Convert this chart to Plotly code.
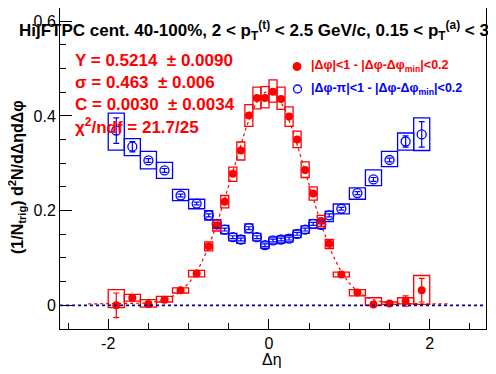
import numpy as np
import plotly.graph_objects as go

# ---------------- data ----------------
deta = [-1.9, -1.7, -1.5, -1.3, -1.1, -0.9, -0.75, -0.65, -0.55, -0.45, -0.35, -0.25, -0.15, -0.05,
        0.05, 0.15, 0.25, 0.35, 0.45, 0.55, 0.65, 0.75, 0.9, 1.1, 1.3, 1.5, 1.7, 1.9]
bin_width = [0.2] * 6 + [0.1] * 16 + [0.2] * 6

near_y = [0.000, 0.016, 0.003, 0.012, 0.032, 0.067, 0.125, 0.168, 0.219, 0.278, 0.327, 0.401, 0.438, 0.438,
          0.451, 0.436, 0.399, 0.350, 0.286, 0.236, 0.178, 0.130, 0.065, 0.027, 0.002, 0.004, 0.009, 0.032]
near_stat = [0.026, 0.006, 0.004, 0.003, 0.003, 0.003, 0.003, 0.003, 0.003, 0.003, 0.003, 0.003, 0.003, 0.003,
             0.003, 0.003, 0.003, 0.003, 0.003, 0.003, 0.003, 0.003, 0.003, 0.003, 0.004, 0.004, 0.011, 0.025]
near_sys_lo = [-0.005, 0.009, -0.004, 0.007, 0.026, 0.060, 0.115, 0.157, 0.206, 0.262, 0.307, 0.378, 0.415, 0.417,
               0.429, 0.414, 0.378, 0.333, 0.270, 0.222, 0.166, 0.120, 0.060, 0.020, 0.000, 0.002, 0.003, 0.002]
near_sys_hi = [0.033, 0.023, 0.012, 0.019, 0.037, 0.074, 0.134, 0.180, 0.232, 0.292, 0.345, 0.424, 0.461, 0.462,
               0.476, 0.461, 0.419, 0.368, 0.303, 0.250, 0.190, 0.139, 0.070, 0.033, 0.016, 0.007, 0.016, 0.063]

away_y = [0.369, 0.335, 0.306, 0.285, 0.232, 0.215, 0.190, 0.172, 0.160, 0.144, 0.139, 0.163, 0.144, 0.127,
          0.137, 0.139, 0.141, 0.151, 0.160, 0.172, 0.170, 0.190, 0.204, 0.237, 0.266, 0.307, 0.346, 0.361]
away_stat = [0.027, 0.011, 0.004, 0.004, 0.003, 0.003, 0.003, 0.003, 0.003, 0.003, 0.003, 0.003, 0.003, 0.003,
             0.003, 0.003, 0.003, 0.003, 0.003, 0.003, 0.003, 0.003, 0.003, 0.003, 0.004, 0.004, 0.012, 0.027]
away_sys_lo = [0.328, 0.316, 0.288, 0.268, 0.221, 0.204, 0.180, 0.163, 0.151, 0.136, 0.131, 0.153, 0.136, 0.120,
               0.130, 0.132, 0.134, 0.143, 0.152, 0.163, 0.162, 0.177, 0.193, 0.224, 0.253, 0.293, 0.328, 0.327]
away_sys_hi = [0.406, 0.352, 0.325, 0.302, 0.245, 0.224, 0.200, 0.181, 0.169, 0.152, 0.147, 0.172, 0.152, 0.134,
               0.144, 0.146, 0.148, 0.159, 0.168, 0.181, 0.178, 0.199, 0.214, 0.248, 0.286, 0.325, 0.364, 0.396]

# Gaussian fit parameters (shown on the plot)
fit_Y, fit_Y_err = 0.5214, 0.0090
fit_sigma, fit_sigma_err = 0.463, 0.006
fit_C, fit_C_err = 0.0030, 0.0034
chi2, ndf = 21.7, 25
fit_range = (-2.25, 2.25)

x_ticks = [-2, 0, 2]
y_ticks = [0, 0.2, 0.4, 0.6]

RED = "#ff0000"
BLUE = "#0000ff"
FONT = "Liberation Sans"

# page offset of the plot div (browser body margin)
OFF = 8
# figure size & margins (in figure pixels)
W, H = 496 - OFF, 374 - OFF
L, R, T, B = 60 - OFF, 10, 0, 45
pw, ph = W - L - R, H - T - B


def px(xp):  # page pixel x -> paper
    return (xp - OFF - L) / pw


def py(yp):  # page pixel y -> paper
    return (T + ph - (yp - OFF)) / ph


fig = go.Figure()

# systematic boxes
shapes = []
for xs, lo, hi, w in zip(deta, away_sys_lo, away_sys_hi, bin_width):
    shapes.append(dict(type="rect", xref="x", yref="y", x0=xs - w / 2, x1=xs + w / 2, y0=lo, y1=hi,
                       line=dict(color=BLUE, width=1.3), fillcolor="rgba(0,0,0,0)", layer="above"))
for xs, lo, hi, w in zip(deta, near_sys_lo, near_sys_hi, bin_width):
    shapes.append(dict(type="rect", xref="x", yref="y", x0=xs - w / 2, x1=xs + w / 2, y0=lo, y1=hi,
                       line=dict(color=RED, width=1.3), fillcolor="rgba(0,0,0,0)", layer="above"))

# zero line
shapes.append(dict(type="line", xref="paper", yref="y", x0=0, x1=1, y0=0, y1=0,
                   line=dict(color="#000080", width=1.6, dash="dot")))

# fit curve
xf = np.linspace(fit_range[0], fit_range[1], 300)
yf = fit_C + fit_Y / (np.sqrt(2 * np.pi) * fit_sigma) * np.exp(-xf ** 2 / (2 * fit_sigma ** 2))
fig.add_trace(go.Scatter(x=xf, y=yf, mode="lines", line=dict(color=RED, width=1.2, dash="3px,3px"),
                         showlegend=False, hoverinfo="skip"))

fig.add_trace(go.Scatter(x=deta, y=away_y, mode="markers",
                         marker=dict(symbol="circle-open", size=9, color=BLUE, line=dict(width=1.3, color=BLUE)),
                         error_y=dict(type="data", array=away_stat, color=BLUE, thickness=1.2, width=3),
                         showlegend=False))
fig.add_trace(go.Scatter(x=deta, y=near_y, mode="markers",
                         marker=dict(symbol="circle", size=8, color=RED),
                         error_y=dict(type="data", array=near_stat, color=RED, thickness=1.2, width=3),
                         showlegend=False))

annotations = []
annotations.append(dict(
    text="<b>HijFTPC cent. 40-100%, 2 &lt; p<sub>T</sub><sup>(t)</sup> &lt; 2.5 GeV/c, 0.15 &lt; p<sub>T</sub><sup>(a)</sup> &lt; 3 GeV/c</b>",
    xref="paper", yref="paper", x=px(17), y=py(30), xanchor="left", yanchor="middle",
    showarrow=False, font=dict(family=FONT, size=17, color="black")))

fit_lines = [
    f"Y = {fit_Y:.4f}  ± {fit_Y_err:.4f}",
    f"σ = {fit_sigma:.3f}  ± {fit_sigma_err:.3f}",
    f"C = {fit_C:.4f}  ± {fit_C_err:.4f}",
    f"χ<sup>2</sup>/ndf = {chi2:.1f}/{ndf}",
]
for i, t in enumerate(fit_lines):
    annotations.append(dict(text=f"<b>{t}</b>", xref="paper", yref="paper", x=px(73), y=py(60 + 22 * i),
                            xanchor="left", yanchor="middle", showarrow=False,
                            font=dict(family=FONT, size=17, color=RED)))

leg = [("|Δφ|&lt;1 - |Δφ-Δφ<sub>min</sub>|&lt;0.2", RED, 66.5),
       ("|Δφ-π|&lt;1 - |Δφ-Δφ<sub>min</sub>|&lt;0.2", BLUE, 89)]
for t, c, yy in leg:
    annotations.append(dict(text=f"<b>{t}</b>", xref="paper", yref="paper", x=px(309), y=py(yy),
                            xanchor="left", yanchor="middle", showarrow=False,
                            font=dict(family=FONT, size=12.5, color=c)))
shapes.append(dict(type="circle", xref="paper", yref="paper", xsizemode="pixel", ysizemode="pixel",
                   xanchor=px(297), yanchor=py(66.5), x0=-4, x1=4, y0=-4, y1=4,
                   fillcolor=RED, line=dict(color=RED, width=1)))
shapes.append(dict(type="circle", xref="paper", yref="paper", xsizemode="pixel", ysizemode="pixel",
                   xanchor=px(297.5), yanchor=py(89), x0=-4, x1=4, y0=-4, y1=4,
                   fillcolor="rgba(0,0,0,0)", line=dict(color=BLUE, width=1.3)))

# axis titles
annotations.append(dict(text="<b>(1/N<sub>trig</sub>) d<sup>2</sup>N/dΔηdΔφ</b>", xref="paper", yref="paper",
                        x=px(17), y=py(177), xanchor="center", yanchor="middle", textangle=-90,
                        showarrow=False, font=dict(family=FONT, size=16, color="black")))
annotations.append(dict(text="Δη", xref="paper", yref="paper", x=px(272), y=py(359),
                        xanchor="center", yanchor="middle", showarrow=False,
                        font=dict(family=FONT, size=16, color="black")))

fig.update_layout(
    width=W, height=H, margin=dict(l=L, r=R, t=T, b=B, autoexpand=False),
    paper_bgcolor="white", plot_bgcolor="white",
    shapes=shapes, annotations=annotations, showlegend=False,
    font=dict(family=FONT, size=15, color="black"),
)
fig.update_xaxes(range=[-2.6, 2.7], showgrid=False, zeroline=False, showline=True, linecolor="black",
                 linewidth=1, mirror=True, ticks="inside", ticklen=10, tickwidth=1, tickcolor="black",
                 tickvals=x_ticks, ticktext=[str(v) for v in x_ticks],
                 tickfont=dict(family=FONT, size=16), automargin=False,
                 minor=dict(dtick=0.5, tick0=0, ticks="inside", ticklen=6, tickcolor="black", tickwidth=1))
fig.update_yaxes(range=[-0.05, 0.628], showgrid=False, zeroline=False, showline=True, linecolor="black",
                 linewidth=1, mirror=True, ticks="inside", ticklen=12, tickwidth=1, tickcolor="black",
                 tickvals=y_ticks, ticktext=["0", "0.2", "0.4", "0.6"],
                 tickfont=dict(family=FONT, size=16), automargin=False,
                 minor=dict(dtick=0.05, tick0=0, ticks="inside", ticklen=6, tickcolor="black", tickwidth=1))

fig.write_html("out.html")
